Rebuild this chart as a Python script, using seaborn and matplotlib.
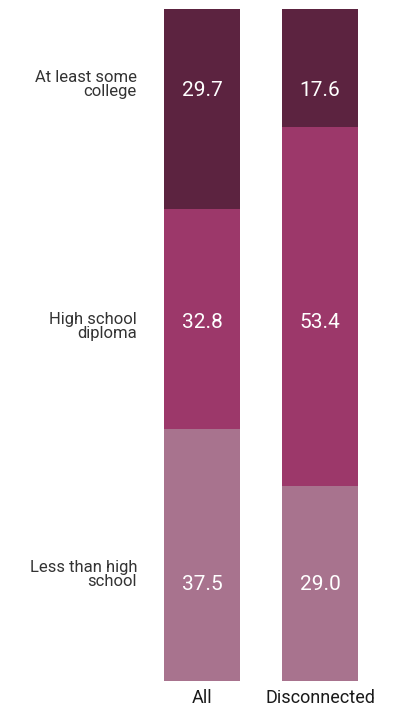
import matplotlib
matplotlib.use("Agg")
import matplotlib.pyplot as plt
import seaborn as sns
import pandas as pd
import numpy as np

groups = ["All", "Disconnected"]
categories = ["Less than high\nschool", "High school\ndiploma", "At least some\ncollege"]
less_than_hs = [37.5, 29.0]
high_school = [32.8, 53.4]
some_college = [29.7, 17.6]
colors = ["#A8738E", "#9C386A", "#5C2340"]

# label placement (data y units, 0-100)
value_label_y = [14.3, 53.3, 87.8]
cat_label_y = [15.8, 52.7, 88.8]

sns.set_theme(style="white")
plt.rcParams["font.family"] = ["Roboto", "DejaVu Sans"]

series = [less_than_hs, high_school, some_college]
cum = np.cumsum(np.array(series), axis=0)

fig = plt.figure(figsize=(3.96, 7.09), dpi=100)
ax = fig.add_axes([164 / 396, (709 - 681) / 709, 194 / 396, 672 / 709])

# draw from top of stack down so lower segments overlay
for i in range(len(series) - 1, -1, -1):
    df = pd.DataFrame({"group": groups, "value": cum[i]})
    sns.barplot(data=df, x="group", y="value", color=colors[i], width=76 / 118,
                saturation=1, ax=ax, linewidth=0)

ax.set_xlim(-0.5 * 76 / 118, 1 + 0.5 * 76 / 118)
ax.set_ylim(0, 100)
ax.set_xlabel("")
ax.set_ylabel("")
ax.set_yticks([])
for s in ax.spines.values():
    s.set_visible(False)
ax.tick_params(axis="x", length=0, pad=6, labelsize=13, labelcolor="#1a1a1a")

for i, vals in enumerate(series):
    for j, v in enumerate(vals):
        ax.text(j, value_label_y[i], f"{v:.1f}", ha="center", va="center",
                color="white", fontsize=15)
    ax.annotate(categories[i], xy=(-0.5 * 76 / 118, cat_label_y[i]),
                xycoords="data", xytext=(-27, 0), textcoords="offset pixels",
                ha="right", va="center", fontsize=12, color="#333333",
                linespacing=0.92, multialignment="right",
                annotation_clip=False)

fig.savefig("out.png", dpi=100)
